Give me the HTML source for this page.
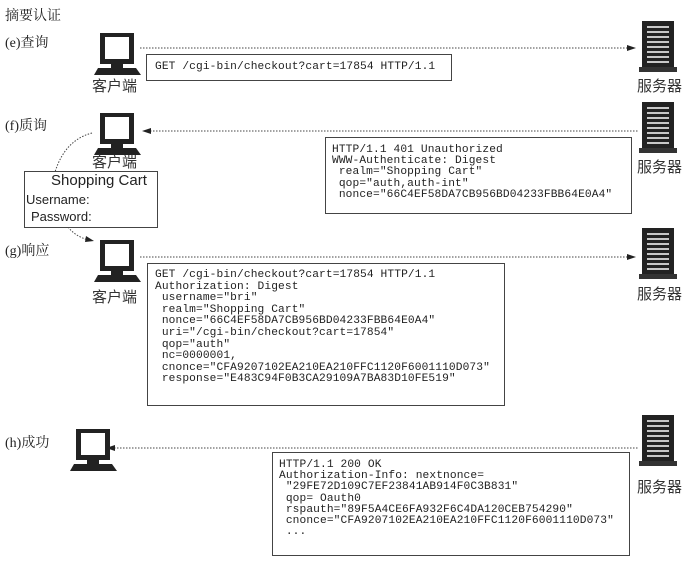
<!DOCTYPE html>
<html><head><meta charset="utf-8"><style>
body{margin:0;background:#fff;}
#c{position:relative;width:698px;height:563px;overflow:hidden;font-family:"Liberation Serif","Noto Serif CJK SC",serif;color:#222;}
.t{position:absolute;font-size:14px;white-space:nowrap;}
.box{position:absolute;border:1.5px solid #444;background:#fff;}
.mono{font-family:"Liberation Mono",monospace;font-size:11px;line-height:11.2px;white-space:pre;letter-spacing:0.1px;color:#222;transform:scaleX(1.02);transform-origin:left;}
.lbl{position:absolute;font-size:15px;font-family:"Noto Sans CJK SC",sans-serif;color:#333;}
</style></head><body><div id="c">
<svg width="698" height="563" style="position:absolute;left:0;top:0">
<defs>
<g id="pc"><rect x="6" y="0" width="34" height="31" fill="#222"/><rect x="11" y="4" width="24" height="22" fill="#fff"/><rect x="17" y="31" width="12" height="4" fill="#222"/><path d="M4 35 H42 L47 42 H0 Z" fill="#222"/></g>
<g id="sv"><rect x="3" y="0" width="32" height="46" fill="#222"/><rect x="0" y="46" width="38" height="5" fill="#333"/>
<g stroke="#fff" stroke-width="1.4"><line x1="8" y1="6" x2="30" y2="6"/><line x1="8" y1="11" x2="30" y2="11"/><line x1="8" y1="16" x2="30" y2="16"/><line x1="8" y1="21" x2="30" y2="21"/><line x1="8" y1="26" x2="30" y2="26"/><line x1="8" y1="31" x2="30" y2="31"/><line x1="8" y1="36" x2="30" y2="36"/><line x1="8" y1="41" x2="30" y2="41"/></g></g>
</defs>
<use href="#pc" x="94" y="33"/><use href="#pc" x="94" y="113"/><use href="#pc" x="94" y="240"/><use href="#pc" x="70" y="429"/>
<use href="#sv" x="639" y="21"/><use href="#sv" x="639" y="102"/><use href="#sv" x="639" y="228"/><use href="#sv" x="639" y="415"/>
<g stroke="#444" stroke-width="1" stroke-dasharray="1.5,1.5" fill="none">
<line x1="140" y1="48" x2="628" y2="48"/>
<line x1="150" y1="131" x2="638" y2="131"/>
<line x1="140" y1="257" x2="628" y2="257"/>
<line x1="114" y1="448" x2="638" y2="448"/>
<path d="M92 133 Q65 140 55 172"/>
<path d="M68 227 Q75 236 88 240"/>
</g>
<g fill="#222">
<path d="M636 48 L627 45 L627 51 Z"/>
<path d="M142 131 L151 128 L151 134 Z"/>
<path d="M636 257 L627 254 L627 260 Z"/>
<path d="M106 448 L115 445 L115 451 Z"/>
<path d="M94 241 L86 236 L85 242 Z"/>
</g>
</svg>
<div class="t" style="left:5px;top:5px">摘要认证</div>
<div class="t" style="left:5px;top:32px">(e)查询</div>
<div class="t" style="left:5px;top:115px">(f)质询</div>
<div class="t" style="left:5px;top:240px">(g)响应</div>
<div class="t" style="left:5px;top:432px">(h)成功</div>
<div class="lbl" style="left:92px;top:75px">客户端</div>
<div class="lbl" style="left:92px;top:151px">客户端</div>
<div class="lbl" style="left:92px;top:286px">客户端</div>
<div class="lbl" style="left:637px;top:75px">服务器</div>
<div class="lbl" style="left:637px;top:156px">服务器</div>
<div class="lbl" style="left:637px;top:283px">服务器</div>
<div class="lbl" style="left:637px;top:476px">服务器</div>
<div class="box" style="left:146px;top:54px;width:304px;height:25px"><div class="mono" style="position:absolute;left:8px;top:7px">GET /cgi-bin/checkout?cart=17854 HTTP/1.1</div></div>
<div class="box" style="left:325px;top:137px;width:305px;height:75px"><div class="mono" style="position:absolute;left:6px;top:7px">HTTP/1.1 401 Unauthorized
WWW-Authenticate: Digest
 realm="Shopping Cart"
 qop="auth,auth-int"
 nonce="66C4EF58DA7CB956BD04233FBB64E0A4"</div></div>
<div class="box" style="left:24px;top:171px;width:132px;height:55px;font-family:'Liberation Sans',sans-serif;">
<div style="position:absolute;left:26px;top:0px;font-size:15px">Shopping Cart</div>
<div style="position:absolute;left:1px;top:20px;font-size:13px">Username:</div>
<div style="position:absolute;left:6px;top:37px;font-size:13px">Password:</div></div>
<div class="box" style="left:147px;top:263px;width:356px;height:141px"><div class="mono" style="position:absolute;left:7px;top:6px;line-height:11.6px">GET /cgi-bin/checkout?cart=17854 HTTP/1.1
Authorization: Digest
 username="bri"
 realm="Shopping Cart"
 nonce="66C4EF58DA7CB956BD04233FBB64E0A4"
 uri="/cgi-bin/checkout?cart=17854"
 qop="auth"
 nc=0000001,
 cnonce="CFA9207102EA210EA210FFC1120F6001110D073"
 response="E483C94F0B3CA29109A7BA83D10FE519"</div></div>
<div class="box" style="left:272px;top:452px;width:356px;height:102px"><div class="mono" style="position:absolute;left:6px;top:7px">HTTP/1.1 200 OK
Authorization-Info: nextnonce=
 "29FE72D109C7EF23841AB914F0C3B831"
 qop= Oauth0
 rspauth="89F5A4CE6FA932F6C4DA120CEB754290"
 cnonce="CFA9207102EA210EA210FFC1120F6001110D073"
 ...</div></div>
</div></body></html>
